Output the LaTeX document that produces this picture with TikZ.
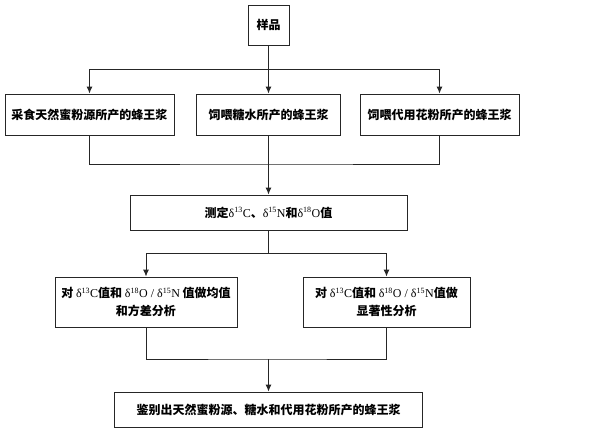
\documentclass[tikz,border=0pt]{standalone}
\usepackage{fontspec}
\setmainfont{Noto Sans CJK SC}
\newfontfamily\lat{Liberation Serif}
\usetikzlibrary{arrows.meta, positioning}
\newcommand{\dsup}[1]{{\lat\mdseries δ\textsuperscript{#1}}}
\newcommand{\lt}[1]{{\lat\mdseries #1}}

\begin{document}
\begin{tikzpicture}[x=1pt, y=-1pt,
    box/.style={draw=black!85, line width=0.9pt, rectangle, inner sep=0pt, align=center, font=\fontsize{12}{18}\selectfont\bfseries},
    arrow/.style={-{Latex[length=7pt, width=6pt]}, draw=black!85, line width=0.9pt},
    line/.style={draw=black!85, line width=0.9pt}
]
\useasboundingbox (0,0) rectangle (595,432);

% Nodes
\node [box, minimum width=41pt, minimum height=40pt] (sample) at (268.5,25) {样品};

\node [box, minimum width=169pt, minimum height=41pt] (natural) at (89.5,114.5) {采食天然蜜粉源所产的蜂王浆};
\node [box, minimum width=144pt, minimum height=41pt] (sugar) at (268.5,114.5) {饲喂糖水所产的蜂王浆};
\node [box, minimum width=159pt, minimum height=41pt] (substitute) at (439.5,114.5) {饲喂代用花粉所产的蜂王浆};

\node [box, minimum width=277pt, minimum height=35pt] (measure) at (268.5,212.5) {测定\dsup{13}\lt{C}、\dsup{15}\lt{N}和\dsup{18}\lt{O}值};

\node [box, minimum width=182pt, minimum height=50pt] (meanvar) at (146,302) {对 \dsup{13}\lt{C}值和 \dsup{18}\lt{O / }\dsup{15}\lt{N} 值做均值\\和方差分析};
\node [box, minimum width=167pt, minimum height=50pt] (signif) at (386.5,302) {对 \dsup{13}\lt{C}值和 \dsup{18}\lt{O / }\dsup{15}\lt{N}值做\\显著性分析};

\node [box, minimum width=308pt, minimum height=35pt] (identify) at (268.5,409.5) {鉴别出天然蜜粉源、糖水和代用花粉所产的蜂王浆};

\coordinate (split1) at (268.5,69);
\coordinate (join1) at (268.5,164);
\coordinate (split2) at (268.5,253);
\coordinate (join2) at (268.5,359);

% Arrows
\draw [line] (sample) -- (split1);
\draw [arrow] (split1) -| (natural);
\draw [arrow] (split1) -- (sugar);
\draw [arrow] (split1) -| (substitute);

\draw [line] (natural) |- (join1) -| (substitute);
\draw [arrow] (sugar) -- (measure);

\draw [line] (measure) -- (split2);
\draw [arrow] (split2) -| (meanvar);
\draw [arrow] (split2) -| (signif);

\draw [line] (meanvar) |- (join2) -| (signif);
\draw [arrow] (join2) -- (identify);

\end{tikzpicture}
\end{document}
